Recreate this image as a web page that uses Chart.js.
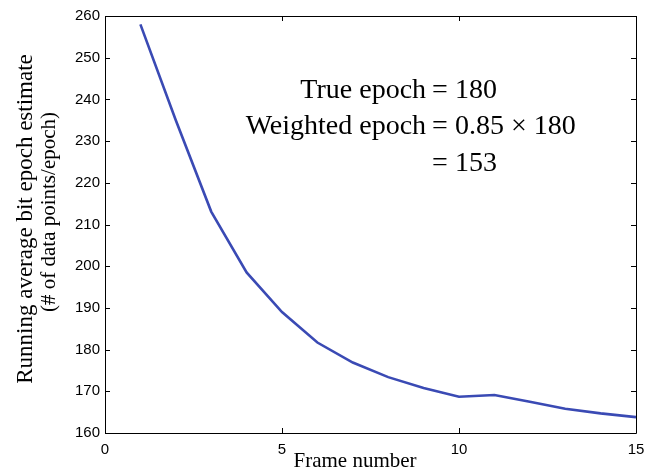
<!DOCTYPE html>
<html>
<head>
<meta charset="utf-8">
<script src="https://cdn.jsdelivr.net/npm/chart.js@4/dist/chart.umd.min.js"></script>
<style>
  html, body { margin: 0; padding: 0; background: #fff; }
  #wrap { width: 656px; height: 476px; }
</style>
</head>
<body>
<div id="wrap"><canvas id="c" width="656" height="476"></canvas></div>
<script>
// Running average of the bit-epoch estimate per frame
const frames = [1, 2, 3, 4, 5, 6, 7, 8, 9, 10, 11, 12, 13, 14, 15];
const epochEstimate = [258, 235, 213.1, 198.5, 189, 181.7, 176.9, 173.4, 170.8, 168.7, 169.1, 167.5, 165.8, 164.7, 163.8];

const xTicks = [0, 5, 10, 15];
const yTicks = [160, 170, 180, 190, 200, 210, 220, 230, 240, 250, 260];

const xTitle = 'Frame number';
const yTitleLines = ['Running average bit epoch estimate', '(# of data points/epoch)'];
const noteLeft = ['True epoch', 'Weighted epoch', ''];
const noteRight = ['= 180', '= 0.85 \u00d7 180', '= 153'];

const SERIF = "'Liberation Serif', 'Times New Roman', serif";
const SANS = "'Liberation Sans', Arial, sans-serif";

// Box around the plot with inward tick marks on all four sides, plus text
const framePlugin = {
  id: 'frame',
  afterDraw(chart) {
    const { ctx, chartArea: a, scales: { x, y } } = chart;
    const tl = 5;
    ctx.save();
    ctx.strokeStyle = '#000';
    ctx.lineWidth = 1;
    ctx.beginPath();
    ctx.rect(Math.round(a.left) + 0.5, Math.round(a.top) + 0.5,
             Math.round(a.right - a.left), Math.round(a.bottom - a.top));
    for (const v of xTicks) {
      const px = Math.round(x.getPixelForValue(v)) + 0.5;
      ctx.moveTo(px, a.bottom); ctx.lineTo(px, a.bottom - tl);
      ctx.moveTo(px, a.top); ctx.lineTo(px, a.top + tl);
    }
    for (const v of yTicks) {
      const py = Math.round(y.getPixelForValue(v)) + 0.5;
      ctx.moveTo(a.left, py); ctx.lineTo(a.left + tl, py);
      ctx.moveTo(a.right, py); ctx.lineTo(a.right - tl, py);
    }
    ctx.stroke();

    ctx.fillStyle = '#000';
    // x axis title
    ctx.font = '21px ' + SERIF;
    ctx.textAlign = 'center';
    ctx.textBaseline = 'alphabetic';
    ctx.fillText(xTitle, a.left + 250, 467);

    // y axis title, two rotated lines
    const yFonts = [23, 21];
    const yCenters = [219, 212];
    const yBase = [32, 55];
    yTitleLines.forEach((t, i) => {
      ctx.save();
      ctx.font = yFonts[i] + 'px ' + SERIF;
      ctx.translate(yBase[i], yCenters[i]);
      ctx.rotate(-Math.PI / 2);
      ctx.textAlign = 'center';
      ctx.fillText(t, 0, 0);
      ctx.restore();
    });

    // annotation, aligned on the equals signs
    ctx.font = '28px ' + SERIF;
    const eqX = x.getPixelForValue(9.24);
    const baseY = [240.3, 231.7, 222.9].map(v => y.getPixelForValue(v));
    noteLeft.forEach((t, i) => {
      ctx.textAlign = 'right';
      if (t) ctx.fillText(t, eqX - 6, baseY[i]);
      ctx.textAlign = 'left';
      ctx.fillText(noteRight[i], eqX, baseY[i]);
    });
    ctx.restore();
  }
};

new Chart(document.getElementById('c'), {
  type: 'line',
  data: {
    datasets: [{
      data: frames.map((f, i) => ({ x: f, y: epochEstimate[i] })),
      borderColor: '#3a4ab4',
      borderWidth: 2.6,
      pointRadius: 0,
      tension: 0,
      fill: false
    }]
  },
  options: {
    responsive: false,
    animation: false,
    layout: { padding: { top: 16, right: 20, left: 0, bottom: 0 } },
    plugins: { legend: { display: false }, tooltip: { enabled: false } },
    scales: {
      x: {
        type: 'linear',
        min: xTicks[0], max: xTicks[xTicks.length - 1],
        afterFit: s => { s.height = 43; },
        grid: { display: false, drawTicks: false, tickLength: 0 },
        border: { display: false },
        ticks: { stepSize: 5, color: '#000', font: { family: SANS, size: 15 }, padding: 8, maxRotation: 0, autoSkip: false }
      },
      y: {
        min: yTicks[0], max: yTicks[yTicks.length - 1],
        afterFit: s => { s.width = 105; },
        grid: { display: false, drawTicks: false, tickLength: 0 },
        border: { display: false },
        ticks: { stepSize: 10, color: '#000', font: { family: SANS, size: 15 }, padding: 5, autoSkip: false }
      }
    }
  },
  plugins: [framePlugin]
});
</script>
</body>
</html>
